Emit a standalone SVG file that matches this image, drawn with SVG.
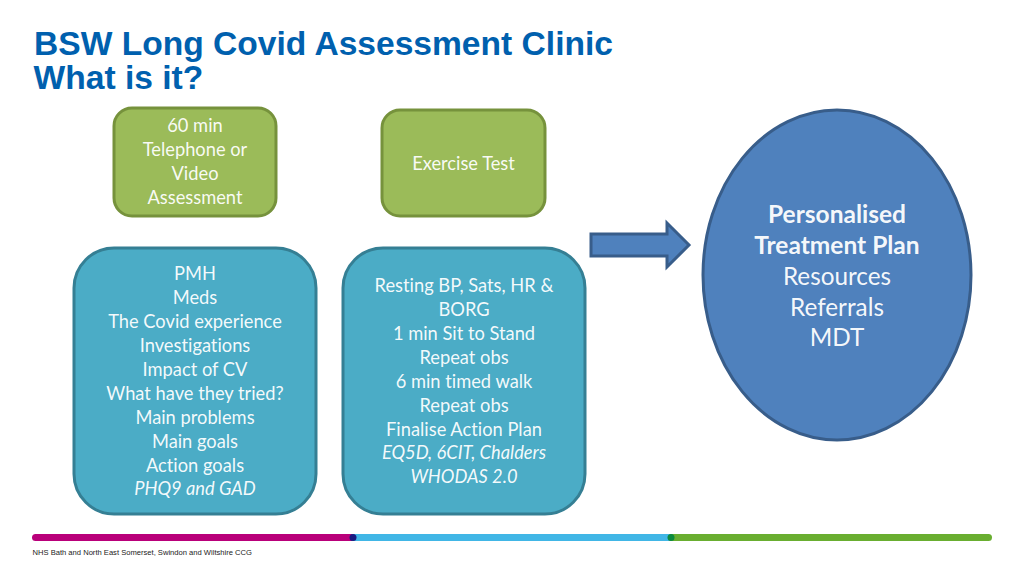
<svg xmlns="http://www.w3.org/2000/svg" width="1024" height="576" viewBox="0 0 1024 576">
<style>
text{font-variant-ligatures:none}
.t{font-family:"Lato","Open Sans",sans-serif;font-size:18.3px;fill:#fff;fill-opacity:.94;text-anchor:middle}
.c{font-family:"Lato","Open Sans",sans-serif;font-size:24.3px;fill:#fff;fill-opacity:.96;text-anchor:middle}
.b{font-weight:700;font-size:24.5px}
.i{font-style:italic}
.h{font-family:"Liberation Sans",Arial,sans-serif;font-weight:700;font-size:33.6px;fill:#0060ae}
.g{fill:#9bbb59;stroke:#76923c;stroke-width:3}
.l{fill:#4bacc6;stroke:#357f94;stroke-width:3}
.u{fill:#4f81bd;stroke:#385d8a;stroke-width:3}
</style>
<rect width="1024" height="576" fill="#fff"/>
<g id="title">
<text class="h" x="34" y="55">BSW Long Covid Assessment Clinic</text>
<text class="h" x="33.500" y="89">What is it?</text>
</g>
<g id="node-telephone">
<rect class="g" x="114" y="108" width="162" height="108" rx="18"/>
<text class="t" x="195" y="132">60 min</text>
<text class="t" x="195" y="156">Telephone or</text>
<text class="t" x="195" y="180">Video</text>
<text class="t" x="195" y="204">Assessment</text>
</g>
<g id="node-exercise">
<rect class="g" x="382" y="110" width="163" height="106" rx="18"/>
<text class="t" x="463.500" y="170">Exercise Test</text>
</g>
<g id="node-history">
<rect class="l" x="74" y="248" width="242" height="266" rx="40"/>
<text class="t" x="195" y="280">PMH</text>
<text class="t" x="195" y="304">Meds</text>
<text class="t" x="195" y="328">The Covid experience</text>
<text class="t" x="195" y="352">Investigations</text>
<text class="t" x="195" y="376">Impact of CV</text>
<text class="t" x="195" y="400">What have they tried?</text>
<text class="t" x="195" y="424">Main problems</text>
<text class="t" x="195" y="448">Main goals</text>
<text class="t" x="195" y="472">Action goals</text>
<text class="t i" x="195" y="495">PHQ9 and GAD</text>
</g>
<g id="node-tests">
<rect class="l" x="343" y="248" width="242" height="266" rx="40"/>
<text class="t" x="464" y="292">Resting BP, Sats, HR &amp;</text>
<text class="t" x="464" y="316">BORG</text>
<text class="t" x="464" y="340">1 min Sit to Stand</text>
<text class="t" x="464" y="364">Repeat obs</text>
<text class="t" x="464" y="388">6 min timed walk</text>
<text class="t" x="464" y="412">Repeat obs</text>
<text class="t" x="464" y="436">Finalise Action Plan</text>
<text class="t i" x="464" y="459">EQ5D, 6CIT, Chalders</text>
<text class="t i" x="464" y="483">WHODAS 2.0</text>
</g>
<g id="connectors">
<polygon class="u" points="591,234 667,234 667,223 689,245 667,267 667,256 591,256"/>
</g>
<g id="node-plan">
<ellipse class="u" cx="837" cy="275" rx="134" ry="165"/>
<text class="c b" x="837" y="223">Personalised</text>
<text class="c b" x="837" y="254">Treatment Plan</text>
<text class="c" x="837" y="285">Resources</text>
<text class="c" x="837" y="316">Referrals</text>
<text class="c" x="837" y="346">MDT</text>
</g>
<g id="footer">
<rect x="32" y="534" width="324" height="7" rx="3.500" fill="#b9007a"/>
<rect x="352" y="534" width="320" height="7" fill="#41b6e6"/>
<circle cx="353" cy="537.500" r="3.500" fill="#1a1a80"/>
<rect x="669" y="534" width="323" height="7" rx="3.500" fill="#69ae30"/>
<circle cx="671" cy="537.500" r="3.500" fill="#0b8a3e"/>
<text x="32.500" y="555" font-family="'Liberation Sans',Arial,sans-serif" font-size="7.600" fill="#222">NHS Bath and North East Somerset, Swindon and Wiltshire CCG</text>
</g>
</svg>
